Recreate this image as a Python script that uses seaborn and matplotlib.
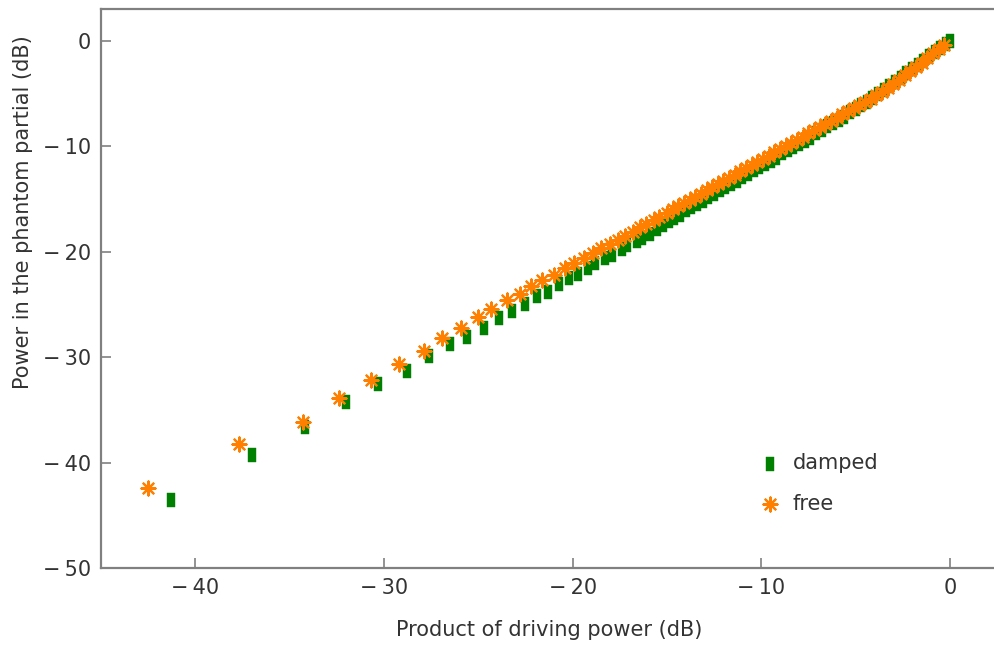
import matplotlib
matplotlib.use("Agg")
import matplotlib.pyplot as plt
from matplotlib.path import Path
from matplotlib.ticker import FuncFormatter
import seaborn as sns
import pandas as pd

# ---- data ----
damped_x = [-41.3, -37.0, -34.2, -32.0, -30.3, -28.8, -27.6, -26.5, -25.6, -24.7,
            -23.9, -23.2, -22.5, -21.9, -21.3, -20.7, -20.2, -19.7, -19.2, -18.8,
            -18.3, -17.9, -17.4, -17.1, -16.6, -16.3, -15.9, -15.5, -15.2, -14.9,
            -14.6, -14.3, -14.0, -13.7, -13.4, -13.1, -12.8, -12.5, -12.2, -11.9,
            -11.6, -11.3, -11.0, -10.7, -10.4, -10.1, -9.8, -9.5, -9.2, -8.9,
            -8.6, -8.3, -8.0, -7.7, -7.4, -7.1, -6.8, -6.5, -6.2, -5.9,
            -5.6, -5.3, -5.0, -4.7, -4.4, -4.1, -3.8, -3.5, -3.2, -2.9,
            -2.6, -2.3, -2.0, -1.7, -1.4, -1.1, -0.8, -0.5, -0.2, 0.0]
damped_y = [-43.6, -39.3, -36.6, -34.3, -32.6, -31.3, -29.9, -28.8, -28.1, -27.2,
            -26.3, -25.6, -25.0, -24.2, -23.8, -23.1, -22.5, -22.1, -21.6, -21.1,
            -20.6, -20.3, -19.8, -19.4, -19.0, -18.7, -18.3, -17.9, -17.5, -17.1,
            -16.8, -16.5, -16.1, -15.8, -15.5, -15.2, -14.8, -14.5, -14.2, -13.9,
            -13.6, -13.3, -12.9, -12.6, -12.3, -12.0, -11.7, -11.4, -11.1, -10.7,
            -10.4, -10.1, -9.8, -9.5, -9.2, -8.8, -8.5, -8.1, -7.8, -7.5,
            -7.2, -6.8, -6.5, -6.1, -5.8, -5.4, -5.1, -4.7, -4.3, -3.9,
            -3.5, -3.1, -2.7, -2.3, -1.9, -1.5, -1.1, -0.7, -0.3, 0.0]

free_x = [-42.5, -37.7, -34.3, -32.4, -30.7, -29.2, -27.9, -26.9, -25.9, -25.0,
          -24.3, -23.5, -22.8, -22.2, -21.6, -21.0, -20.4, -19.9, -19.4, -18.9,
          -18.5, -18.0, -17.6, -17.2, -16.8, -16.4, -16.1, -15.7, -15.4, -15.0,
          -14.7, -14.4, -14.1, -13.8, -13.5, -13.2, -12.9, -12.6, -12.3, -12.0,
          -11.7, -11.4, -11.1, -10.8, -10.5, -10.2, -9.9, -9.6, -9.3, -9.0,
          -8.7, -8.4, -8.1, -7.8, -7.5, -7.2, -6.9, -6.6, -6.3, -6.0,
          -5.7, -5.4, -5.1, -4.8, -4.5, -4.2, -3.9, -3.6, -3.3, -3.0,
          -2.7, -2.4, -2.1, -1.8, -1.5, -1.2, -0.9, -0.6, -0.3]
free_y = [-42.4, -38.2, -36.2, -33.9, -32.2, -30.7, -29.4, -28.2, -27.2, -26.2,
          -25.4, -24.6, -24.0, -23.3, -22.7, -22.2, -21.6, -21.1, -20.6, -20.1,
          -19.7, -19.3, -18.9, -18.5, -18.1, -17.7, -17.4, -17.0, -16.7, -16.3,
          -16.0, -15.7, -15.4, -15.1, -14.8, -14.5, -14.2, -13.9, -13.6, -13.3,
          -13.0, -12.7, -12.4, -12.1, -11.8, -11.5, -11.2, -10.9, -10.6, -10.3,
          -10.0, -9.7, -9.4, -9.1, -8.8, -8.5, -8.2, -7.9, -7.6, -7.3,
          -7.0, -6.7, -6.4, -6.1, -5.8, -5.5, -5.2, -4.9, -4.5, -4.1,
          -3.7, -3.3, -2.9, -2.5, -2.1, -1.6, -1.2, -0.8, -0.4]

series_labels = ["damped", "free"]
x_ticks = [-40, -30, -20, -10, 0]
y_ticks = [0, -10, -20, -30, -40, -50]
x_label = "Product of driving power (dB)"
y_label = "Power in the phantom partial (dB)"

GREEN = "#008000"
ORANGE = "#FF8000"
AXCOL = "#808080"
TXTCOL = "#333333"
FS = 15

sns.set_style("white")
plt.rcParams["font.family"] = ["DejaVu Sans"]

df_d = pd.DataFrame({"x": damped_x, "y": damped_y})
df_f = pd.DataFrame({"x": free_x, "y": free_y})

fig = plt.figure(figsize=(9.95, 6.45), dpi=100)
ax = fig.add_axes([101 / 995, 77 / 645, 1.0 - 101 / 995 + 0.002, (568 - 9) / 645])

rect = Path([(-0.62, -1.0), (0.62, -1.0), (0.62, 1.0), (-0.62, 1.0), (-0.62, -1.0)],
            [Path.MOVETO, Path.LINETO, Path.LINETO, Path.LINETO, Path.CLOSEPOLY])

sns.scatterplot(data=df_d, x="x", y="y", ax=ax, marker=rect, s=100,
                color=GREEN, edgecolor=GREEN, linewidth=0.3, label=series_labels[0],
                zorder=3)
sns.scatterplot(data=df_f, x="x", y="y", ax=ax, marker=(8, 2, 0), s=100,
                color=ORANGE, edgecolor=ORANGE, linewidth=1.6, label=series_labels[1],
                zorder=4)


def fmt(v, pos):
    v = int(round(v))
    return "\u2212\u2009" + str(abs(v)) if v < 0 else str(v)


ax.set_xlim(-45, 2.5)
ax.set_ylim(-50, 3)
ax.set_xticks(x_ticks)
ax.set_yticks(y_ticks)
ax.xaxis.set_major_formatter(FuncFormatter(fmt))
ax.yaxis.set_major_formatter(FuncFormatter(fmt))
ax.set_xlabel(x_label, fontsize=FS, color=TXTCOL, labelpad=16)
ax.set_ylabel(y_label, fontsize=FS, color=TXTCOL)
ax.yaxis.set_label_coords(-0.076, 0.637)
ax.tick_params(axis="both", direction="in", length=7, width=1.2, color=AXCOL,
               labelsize=FS, labelcolor=TXTCOL, pad=7, bottom=True, left=True,
               top=False, right=False)
for name, sp in ax.spines.items():
    sp.set_visible(True)
    sp.set_color(AXCOL)
    sp.set_linewidth(1.6)

leg = ax.legend(loc="upper left", bbox_to_anchor=(0.722, 0.220), frameon=False,
                fontsize=FS, handletextpad=0.45, labelspacing=0.98,
                borderaxespad=0.0, handlelength=1.3)
for t in leg.get_texts():
    t.set_color(TXTCOL)

fig.savefig("out.png", dpi=100)
